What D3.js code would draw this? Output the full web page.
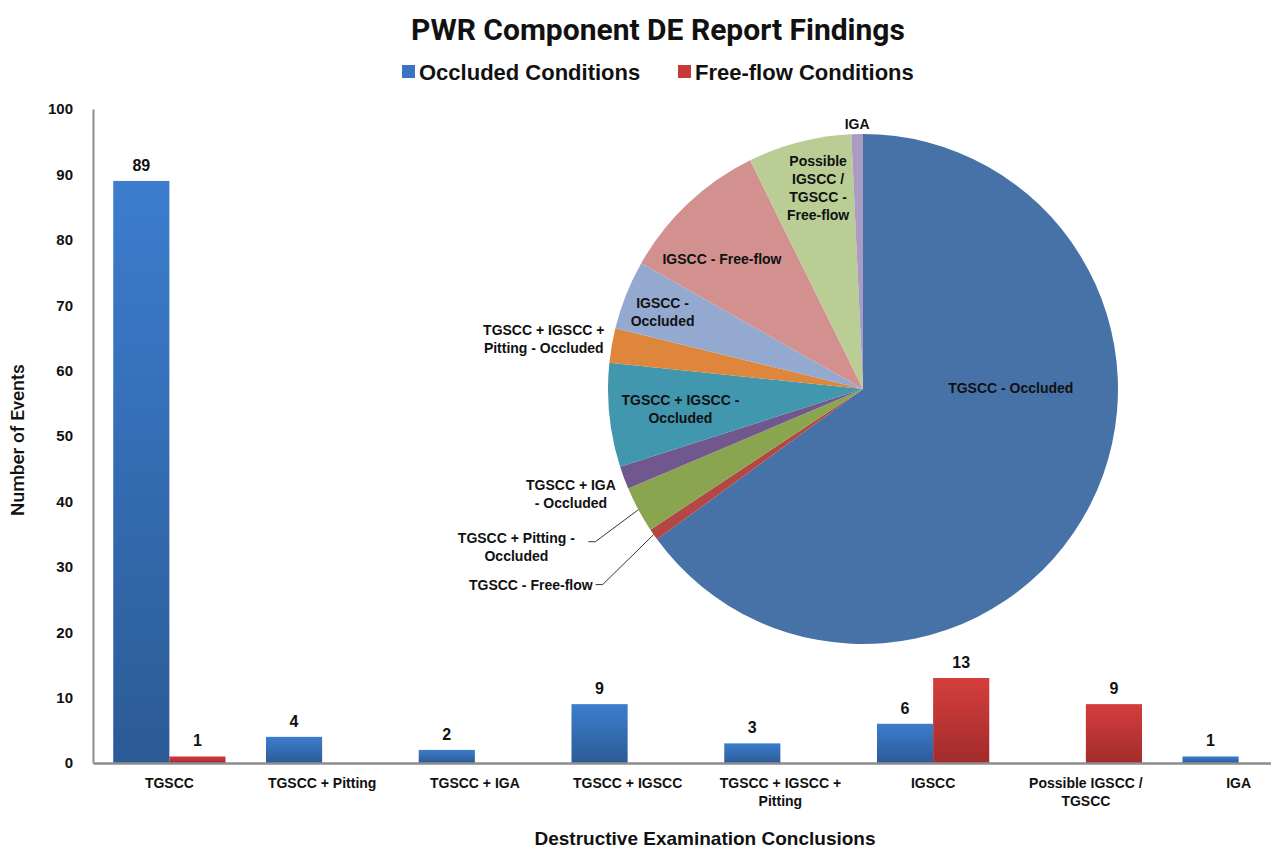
<!DOCTYPE html>
<html>
<head>
<meta charset="utf-8">
<script src="https://cdnjs.cloudflare.com/ajax/libs/d3/7.8.5/d3.min.js"></script>
<style>
  body { margin: 0; background: #fff; }
</style>
</head>
<body>
<svg></svg>
<script>
// ---- data ----
const categories = ['TGSCC', 'TGSCC + Pitting', 'TGSCC + IGA', 'TGSCC + IGSCC', 'TGSCC + IGSCC + Pitting', 'IGSCC', 'Possible IGSCC / TGSCC', 'IGA'];
const categoryLines = [['TGSCC'], ['TGSCC + Pitting'], ['TGSCC + IGA'], ['TGSCC + IGSCC'], ['TGSCC + IGSCC +', 'Pitting'], ['IGSCC'], ['Possible IGSCC /', 'TGSCC'], ['IGA']];
const seriesNames = ['Occluded Conditions', 'Free-flow Conditions'];
const occluded = [89, 4, 2, 9, 3, 6, 0, 1];
const freeFlow = [1, 0, 0, 0, 0, 13, 9, 0];
const yTicks = [0, 10, 20, 30, 40, 50, 60, 70, 80, 90, 100];

const pieNames = ['TGSCC - Occluded', 'TGSCC - Free-flow', 'TGSCC + Pitting - Occluded', 'TGSCC + IGA - Occluded', 'TGSCC + IGSCC - Occluded', 'TGSCC + IGSCC + Pitting - Occluded', 'IGSCC - Occluded', 'IGSCC - Free-flow', 'Possible IGSCC / TGSCC - Free-flow', 'IGA'];
const pieValues = [89, 1, 4, 2, 9, 3, 6, 13, 9, 1];
const pieLabelLines = [
  ['TGSCC - Occluded'],
  ['TGSCC - Free-flow'],
  ['TGSCC + Pitting -', 'Occluded'],
  ['TGSCC + IGA', '- Occluded'],
  ['TGSCC + IGSCC -', 'Occluded'],
  ['TGSCC + IGSCC +', 'Pitting - Occluded'],
  ['IGSCC -', 'Occluded'],
  ['IGSCC - Free-flow'],
  ['Possible', 'IGSCC /', 'TGSCC -', 'Free-flow'],
  ['IGA']
];

// ---- layout ----
const WIDTH = 1271;
const HEIGHT = 851;
const PLOT_LEFT = 93;
const PLOT_RIGHT = 1315;   // plot runs past the right edge, like the source image
const PLOT_TOP = 109;
const PLOT_BOTTOM = 763;

const PIE_CX = 863;
const PIE_CY = 389;
const PIE_R = 255;

const pieColors = ['#4672a8', '#b44643', '#8aa54f', '#70578e', '#4097ae', '#de863b', '#94a9d0', '#d2908f', '#bacd95', '#aa9bc4'];

// label placement: point at mid angle * k*r, then nudged (first baseline)
const pieLabelPos = [
  { k: 0.65, dx: 0, dy: -71 },
  { leader: true, ox: -51, oy: 50, anchor: 'end' },
  { leader: true, ox: -43, oy: 32, anchor: 'middle' },
  { k: 1.0, dx: -53, dy: 12 },
  { k: 0.72, dx: 0, dy: -3 },
  { k: 1.0, dx: -68, dy: -10 },
  { k: 0.85, dx: 1, dy: -1 },
  { k: 0.72, dx: -15, dy: 8 },
  { k: 0.8, dx: 6, dy: -25 },
  { k: 1.0, dx: 0, dy: -5 }
];

const FONT = 'Arial, "Liberation Sans", sans-serif';
const NARROW = '"Liberation Sans Narrow", "Arial Narrow", Roboto, sans-serif';

const svg = d3.select('svg')
  .attr('width', WIDTH)
  .attr('height', HEIGHT)
  .attr('font-family', FONT);

const defs = svg.append('defs');
function addGradient(id, top, bottom) {
  const g = defs.append('linearGradient')
    .attr('id', id)
    .attr('x1', 0).attr('y1', 0)
    .attr('x2', 0).attr('y2', 1);
  g.append('stop').attr('offset', '0%').attr('stop-color', top);
  g.append('stop').attr('offset', '100%').attr('stop-color', bottom);
}
addGradient('gradBlue', '#3c7dce', '#2c5b96');
addGradient('gradRed', '#d43e3d', '#a22c2c');
const barFills = ['url(#gradBlue)', 'url(#gradRed)'];
const swatchFills = ['#3a74c2', '#c63a3a'];

// ---- title and legend ----
svg.append('text')
  .text('PWR Component DE Report Findings')
  .attr('x', 658)
  .attr('y', 40)
  .attr('text-anchor', 'middle')
  .attr('font-family', NARROW)
  .attr('font-weight', 'bold')
  .attr('font-size', 30)
  .attr('fill', '#111');

const legendX = [402, 678];
const legend = svg.append('g');
seriesNames.forEach((name, i) => {
  legend.append('rect')
    .attr('x', legendX[i])
    .attr('y', 65)
    .attr('width', 13)
    .attr('height', 13)
    .attr('fill', swatchFills[i]);
  legend.append('text')
    .text(name)
    .attr('x', legendX[i] + 17)
    .attr('y', 80)
    .attr('font-weight', 'bold')
    .attr('font-size', 22)
    .attr('fill', '#111');
});

// ---- scales ----
const xScale = d3.scaleBand()
  .domain(categories)
  .range([PLOT_LEFT, PLOT_RIGHT])
  .paddingInner(0.265)
  .paddingOuter(0.1325);

const xSub = d3.scaleBand()
  .domain([0, 1])
  .range([0, xScale.bandwidth()]);

const yScale = d3.scaleLinear()
  .domain([0, 100])
  .range([PLOT_BOTTOM, PLOT_TOP]);

// ---- bars ----
const series = [occluded, freeFlow];
series.forEach((values, s) => {
  const pts = values.map((v, i) => ({ cat: categories[i], v: v })).filter(d => d.v > 0);
  svg.append('g')
    .selectAll('rect')
    .data(pts)
    .enter()
    .append('rect')
    .attr('x', d => xScale(d.cat) + xSub(s))
    .attr('y', d => yScale(d.v))
    .attr('width', xSub.bandwidth())
    .attr('height', d => yScale(0) - yScale(d.v))
    .attr('fill', barFills[s]);

  svg.append('g')
    .selectAll('text')
    .data(pts)
    .enter()
    .append('text')
    .text(d => d.v)
    .attr('x', d => xScale(d.cat) + xSub(s) + xSub.bandwidth() / 2)
    .attr('y', d => yScale(d.v) - 10)
    .attr('text-anchor', 'middle')
    .attr('font-weight', 'bold')
    .attr('font-size', 16)
    .attr('fill', '#111');
});

// ---- axes ----
const yAxis = d3.axisLeft(yScale)
  .tickValues(yTicks)
  .tickSize(0)
  .tickPadding(20);

const yAxisG = svg.append('g')
  .attr('transform', `translate(${PLOT_LEFT}, 0)`)
  .call(yAxis);
yAxisG.select('.domain').attr('stroke', '#8c8c8c').attr('stroke-width', 2);
yAxisG.selectAll('.tick text')
  .attr('font-family', FONT)
  .attr('font-weight', 'bold')
  .attr('font-size', 15)
  .attr('fill', '#111');

const xAxis = d3.axisBottom(xScale).tickSize(0).tickFormat('');
const xAxisG = svg.append('g')
  .attr('transform', `translate(0, ${PLOT_BOTTOM})`)
  .call(xAxis);
xAxisG.select('.domain').attr('stroke', '#8c8c8c').attr('stroke-width', 2.5);

xAxisG.selectAll('.tick')
  .each(function(d, i) {
    const t = d3.select(this).append('text')
      .attr('y', 25)
      .attr('text-anchor', 'middle')
      .attr('font-family', FONT)
      .attr('font-weight', 'bold')
      .attr('font-size', 14)
      .attr('fill', '#111');
    categoryLines[i].forEach((line, j) => {
      t.append('tspan').attr('x', 0).attr('dy', j === 0 ? 0 : 18).text(line);
    });
  });

svg.append('text')
  .text('Number of Events')
  .attr('transform', `translate(24, 440) rotate(-90)`)
  .attr('text-anchor', 'middle')
  .attr('font-family', NARROW)
  .attr('font-weight', 500)
  .attr('font-size', 19)
  .attr('fill', '#111');

svg.append('text')
  .text('Destructive Examination Conclusions')
  .attr('x', 705)
  .attr('y', 845)
  .attr('text-anchor', 'middle')
  .attr('font-weight', 'bold')
  .attr('font-size', 19)
  .attr('fill', '#111');

// ---- inset pie ----
const pie = d3.pie().sort(null).value(d => d)(pieValues);
const arc = d3.arc().innerRadius(0).outerRadius(PIE_R);

const pieG = svg.append('g')
  .attr('transform', `translate(${PIE_CX}, ${PIE_CY})`);

pieG.selectAll('path')
  .data(pie)
  .enter()
  .append('path')
  .attr('d', arc)
  .attr('fill', (d, i) => pieColors[i]);

function polar(a, r) {
  return [r * Math.sin(a), -r * Math.cos(a)];
}

pie.forEach((d, i) => {
  const mid = (d.startAngle + d.endAngle) / 2;
  const pos = pieLabelPos[i];
  let x, y;
  if (pos.leader) {
    const edge = polar(mid, PIE_R);
    const elbow = [edge[0] + pos.ox, edge[1] + pos.oy];
    pieG.append('polyline')
      .attr('points', [edge, elbow, [elbow[0] - 7, elbow[1]]].map(p => p.join(',')).join(' '))
      .attr('fill', 'none')
      .attr('stroke', '#333')
      .attr('stroke-width', 1);
    if (pos.anchor === 'end') {
      x = elbow[0] - 10;
      y = elbow[1] + 5;
    } else {
      x = elbow[0] - 79;
      y = elbow[1] + 1;
    }
  } else {
    const p = polar(mid, PIE_R * pos.k);
    x = p[0] + pos.dx;
    y = p[1] + pos.dy;
  }
  const t = pieG.append('text')
    .attr('x', x)
    .attr('y', y)
    .attr('text-anchor', pos.anchor || 'middle')
    .attr('font-weight', 'bold')
    .attr('font-size', 14)
    .attr('fill', '#111');
  pieLabelLines[i].forEach((line, j) => {
    t.append('tspan').attr('x', x).attr('dy', j === 0 ? 0 : 18).text(line);
  });
});
</script>
</body>
</html>
